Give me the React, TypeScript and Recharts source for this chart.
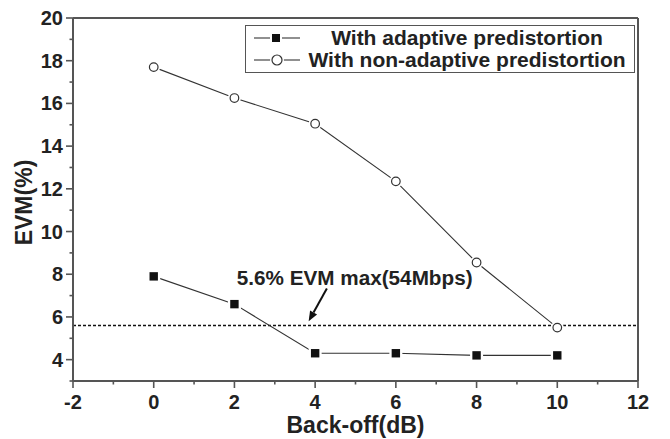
import React from "react";
import {
  LineChart,
  Line,
  XAxis,
  YAxis,
  ReferenceLine,
  ReferenceDot,
  Legend,
} from "recharts";

const backoff = [0, 2, 4, 6, 8, 10];
const adaptive = [7.9, 6.6, 4.3, 4.3, 4.2, 4.2];
const nonAdaptive = [17.7, 16.25, 15.05, 12.35, 8.55, 5.5];
const xTicks = [-2, -1, 0, 1, 2, 3, 4, 5, 6, 7, 8, 9, 10, 11, 12];
const yTicks = [3, 4, 5, 6, 7, 8, 9, 10, 11, 12, 13, 14, 15, 16, 17, 18, 19, 20];
const evmLimit = 5.6;
const seriesNames = ["With adaptive predistortion", "With non-adaptive predistortion"];
const annotationText = "5.6% EVM max(54Mbps)";
const annotationPos = { x: 4.98, y: 7.85 };
const arrowFrom = { x: 4.29, y: 7.33 };
const arrowTo = { x: 3.84, y: 5.8 };

const data = backoff.map((b, i) => ({ b, a: adaptive[i], n: nonAdaptive[i] }));

const FONT = "'Liberation Sans', Arial, sans-serif";
const AXIS = "#555";
const INK = "#222";

const XTick = (props: any) => {
  const { x, y, payload } = props;
  const v = payload.value;
  const major = v % 2 === 0;
  return (
    <g>
      <line x1={x} x2={x} y1={y} y2={y + (major ? 7 : 3.5)} stroke={AXIS} strokeWidth={1.6} />
      {major && (
        <text x={x} y={y + 28} textAnchor="middle" fontFamily={FONT} fontWeight="bold" fontSize={20} fill={INK}>
          {v}
        </text>
      )}
    </g>
  );
};

const YTick = (props: any) => {
  const { x, y, payload } = props;
  const v = payload.value;
  const major = v % 2 === 0;
  return (
    <g>
      <line x1={x} x2={x - (major ? 7 : 3.5)} y1={y} y2={y} stroke={AXIS} strokeWidth={1.6} />
      {major && (
        <text x={x - 10} y={y + 7} textAnchor="end" fontFamily={FONT} fontWeight="bold" fontSize={20} fill={INK}>
          {v}
        </text>
      )}
    </g>
  );
};

const SquareDot = (props: any) => {
  const { cx, cy } = props;
  if (cx == null || cy == null) return null;
  return (
    <g>
      <rect x={cx - 6.5} y={cy - 6.5} width={13} height={13} fill="#fff" />
      <rect x={cx - 4.2} y={cy - 4.2} width={8.4} height={8.4} fill="#111" />
    </g>
  );
};

const CircleDot = (props: any) => {
  const { cx, cy } = props;
  if (cx == null || cy == null) return null;
  return (
    <g>
      <circle cx={cx} cy={cy} r={6.5} fill="#fff" />
      <circle cx={cx} cy={cy} r={4.3} fill="#fff" stroke="#333" strokeWidth={1.2} />
    </g>
  );
};

const YLabel = (props: any) => {
  const vb = props.viewBox || {};
  const cx = 24;
  const cy = (vb.y ?? 18) + (vb.height ?? 363) / 2 + 3;
  return (
    <text
      x={cx}
      y={cy}
      transform={`rotate(-90, ${cx}, ${cy})`}
      textAnchor="middle"
      dominantBaseline="central"
      fontFamily={FONT}
      fontWeight="bold"
      fontSize={23}
      fill={INK}
    >
      EVM(%)
    </text>
  );
};

const Arrow = (props: any) => {
  const { x1, y1, x2, y2 } = props;
  if ([x1, y1, x2, y2].some((v) => v == null)) return null;
  const dx = x2 - x1;
  const dy = y2 - y1;
  const len = Math.sqrt(dx * dx + dy * dy);
  const ux = dx / len;
  const uy = dy / len;
  const hl = 10;
  const hw = 4;
  const bx = x2 - ux * hl;
  const by = y2 - uy * hl;
  const pts = `${x2},${y2} ${bx - uy * hw},${by + ux * hw} ${bx + uy * hw},${by - ux * hw}`;
  return (
    <g>
      <line x1={x1} y1={y1} x2={bx} y2={by} stroke="#111" strokeWidth={2} />
      <polygon points={pts} fill="#111" />
    </g>
  );
};

const AnnotationLabel = (props: any) => {
  const vb = props.viewBox || {};
  const x = vb.cx ?? vb.x;
  const y = vb.cy ?? vb.y;
  return (
    <text x={x} y={y} textAnchor="middle" dominantBaseline="central" fontFamily={FONT} fontWeight="bold" fontSize={20.7} fill={INK}>
      {annotationText}
    </text>
  );
};

const LegendBox = () => {
  const row = (i: number) => (
    <div key={i} style={{ display: "flex", alignItems: "center", height: 22 }}>
      <svg width={58} height={22} style={{ flex: "none" }}>
        <line x1={8} x2={54} y1={11} y2={11} stroke="#222" strokeWidth={1.2} />
        {i === 0 ? (
          <g>
            <rect x={24} y={5} width={12} height={12} fill="#fff" />
            <rect x={26} y={7} width={8} height={8} fill="#111" />
          </g>
        ) : (
          <g>
            <circle cx={31} cy={11} r={7} fill="#fff" />
            <circle cx={31} cy={11} r={5} fill="#fff" stroke="#333" strokeWidth={1.2} />
          </g>
        )}
      </svg>
      <div
        style={{
          flex: 1,
          textAlign: "center",
          fontFamily: FONT,
          fontWeight: "bold",
          fontSize: 21,
          color: INK,
          whiteSpace: "nowrap",
          lineHeight: "22px",
        }}
      >
        {seriesNames[i]}
      </div>
    </div>
  );
  return (
    <div
      style={{
        border: `1.5px solid ${AXIS}`,
        background: "#fff",
        width: 390,
        height: 48,
        boxSizing: "border-box",
        padding: "1px 4px 0 0",
      }}
    >
      {row(0)}
      {row(1)}
    </div>
  );
};

export default function App() {
  return (
    <div style={{ position: "absolute", left: 0, top: 0, width: 670, height: 439, background: "#fff" }}>
      <LineChart width={670} height={439} data={data} margin={{ top: 18, right: 32, bottom: 0, left: 0 }}>
        <XAxis
          dataKey="b"
          type="number"
          domain={[-2, 12]}
          ticks={xTicks}
          interval={0}
          height={58}
          tickSize={0}
          tickMargin={0}
          tickLine={false}
          tick={<XTick />}
          axisLine={{ stroke: AXIS, strokeWidth: 2 }}
          label={{
            value: "Back-off(dB)",
            position: "insideBottom",
            offset: 6,
            fontFamily: FONT,
            fontWeight: "bold",
            fontSize: 23,
            fill: INK,
          }}
        />
        <YAxis
          type="number"
          domain={[3, 20]}
          ticks={yTicks}
          interval={0}
          width={73}
          tickSize={0}
          tickMargin={0}
          tickLine={false}
          tick={<YTick />}
          axisLine={{ stroke: AXIS, strokeWidth: 2 }}
          label={<YLabel />}
        />
        <ReferenceLine y={20} stroke={AXIS} strokeWidth={2} />
        <ReferenceLine x={12} stroke={AXIS} strokeWidth={2} />
        <ReferenceLine y={evmLimit} stroke="#111" strokeWidth={1.6} strokeDasharray="3 2" />
        <ReferenceLine
          segment={[
            { x: arrowFrom.x, y: arrowFrom.y },
            { x: arrowTo.x, y: arrowTo.y },
          ]}
          shape={<Arrow />}
        />
        <ReferenceDot x={annotationPos.x} y={annotationPos.y} r={0} fill="none" stroke="none" label={<AnnotationLabel />} />
        <Line
          type="linear"
          dataKey="a"
          name={seriesNames[0]}
          stroke="#333"
          strokeWidth={1.1}
          dot={<SquareDot />}
          isAnimationActive={false}
        />
        <Line
          type="linear"
          dataKey="n"
          name={seriesNames[1]}
          stroke="#333"
          strokeWidth={1.1}
          dot={<CircleDot />}
          isAnimationActive={false}
        />
        <Legend
          layout="horizontal"
          verticalAlign="middle"
          align="center"
          content={<LegendBox />}
          wrapperStyle={{ left: 245, top: 25, width: 390, height: 48 }}
        />
      </LineChart>
    </div>
  );
}
